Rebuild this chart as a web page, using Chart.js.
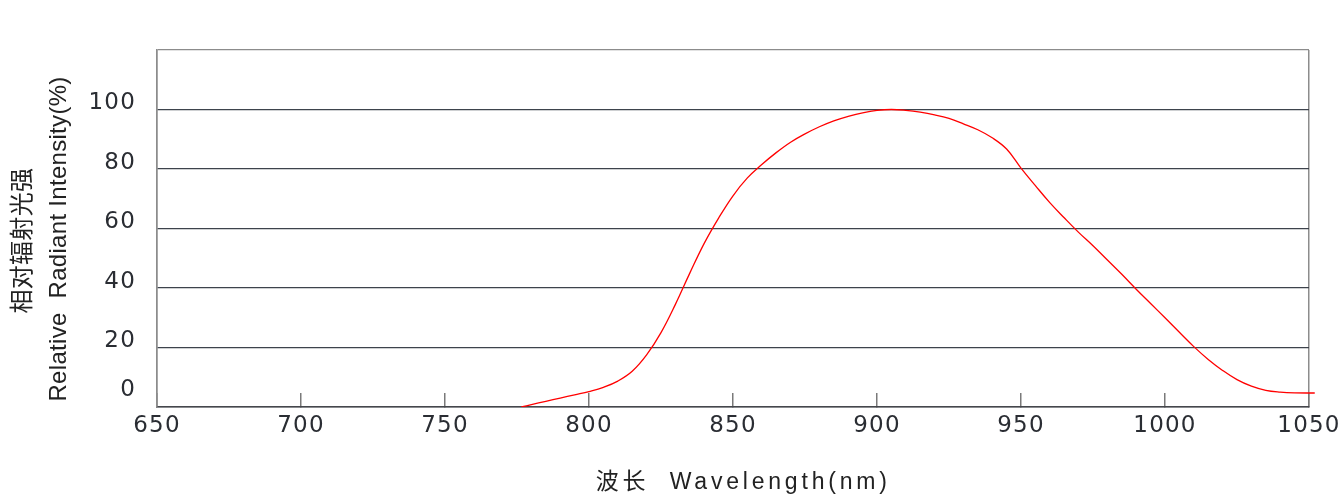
<!DOCTYPE html>
<html>
<head>
<meta charset="utf-8">
<script src="https://cdn.jsdelivr.net/npm/chart.js@4.4.1/dist/chart.umd.min.js"></script>
<style>
html,body{margin:0;padding:0;background:#fff;}
#wrap{width:1340px;height:497px;position:relative;}
</style>
</head>
<body>
<div id="wrap"><canvas id="c"></canvas></div>
<script>
// ---- data ----
const wavelengths = [776.5, 780, 785, 790, 795, 800, 805, 810, 815, 820, 825, 830, 835, 840, 845, 850, 855, 860, 865, 870, 875, 880, 885, 890, 895, 900, 905, 910, 915, 920, 925, 930, 935, 940, 945, 950, 955, 960, 965, 970, 975, 980, 985, 990, 995, 1000, 1005, 1010, 1015, 1020, 1025, 1030, 1035, 1040, 1045, 1052];
const intensity   = [0, 0.8, 1.9, 3.0, 4.1, 5.2, 6.6, 8.7, 12, 17.5, 25, 34.5, 45, 55, 63.5, 71, 77, 81.5, 85.5, 89, 91.8, 94.2, 96.2, 97.7, 98.9, 99.7, 100, 99.7, 99.1, 98.2, 97, 95.2, 93.2, 90.5, 86.7, 80.3, 74.4, 68.7, 63.6, 58.7, 54.2, 49.4, 44.6, 39.6, 34.8, 30, 25.1, 20.3, 16, 12.3, 9.2, 7, 5.6, 5, 4.75, 4.7];
const xTickValues = [650, 700, 750, 800, 850, 900, 950, 1000, 1050];
const yTickValues = [0, 20, 40, 60, 80, 100, 120];
const yTitleLines = ['相对辐射光强\u3000', 'Relative  Radiant Intensity(%)   '];
const xTitleText  = '  波长  Wavelength(nm)';

const spacingPlugin = {
  id: 'spacing',
  beforeUpdate(chart) { chart.ctx.letterSpacing = '1.2px'; },
  beforeDraw(chart) { chart.ctx.letterSpacing = '1.2px'; },
  afterLayout(chart) {
    const conf = [['x', '3.8px'], ['y', '0.3px']];
    for (const [id, sp] of conf) {
      const s = chart.scales[id];
      if (s && !s.__wrapped) {
        const orig = s.drawTitle;
        s.drawTitle = function () {
          const c = this.ctx;
          const prev = c.letterSpacing;
          c.letterSpacing = sp;
          orig.call(this);
          c.letterSpacing = prev;
        };
        s.__wrapped = true;
      }
    }
  }
};

const points = wavelengths.map((w, i) => ({x: w, y: intensity[i]}));

new Chart(document.getElementById('c'), {
  type: 'line',
  data: {
    datasets: [{
      data: points,
      borderColor: '#ff0000',
      borderWidth: 1.3,
      pointRadius: 0,
      fill: false,
      tension: 0.4,
      clip: {left: 0, top: false, right: 8, bottom: 0}
    }]
  },
  options: {
    responsive: true,
    maintainAspectRatio: false,
    animation: false,
    events: [],
    layout: {padding: {left: 5, top: 50, right: 31, bottom: 0}},
    plugins: {legend: {display: false}, tooltip: {enabled: false}},
    scales: {
      x: {
        type: 'linear',
        min: 650, max: 1050,
        afterBuildTicks: (s) => { s.ticks = xTickValues.map(v => ({value: v})); },
        afterFit: (s) => { s.height = 90; s.paddingLeft = 0; s.paddingRight = 0; },
        border: {display: true, color: '#45474c', width: 1.5},
        grid: {
          display: true,
          drawOnChartArea: true,
          color: (ctx) => (ctx.tick && (ctx.tick.value === 650 || ctx.tick.value === 1050)) ? '#8c8c8c' : 'rgba(0,0,0,0)',
          lineWidth: 1.5,
          drawTicks: true,
          tickLength: -14,
          tickColor: '#7a7a7a',
          tickWidth: 1.5
        },
        ticks: {
          color: '#2a2d33',
          font: {family: 'DejaVu Sans', size: 23, lineHeight: 1.2},
          padding: 19,
          maxRotation: 0,
          autoSkip: false,
          callback: (v) => String(v)
        },
        title: {
          display: true,
          text: xTitleText,
          color: '#222222',
          font: {family: "'Liberation Sans', 'Noto Sans CJK SC', sans-serif", size: 23, lineHeight: 1.2},
          padding: {top: 4, bottom: 1}
        }
      },
      y: {
        type: 'linear',
        min: 0, max: 120,
        afterBuildTicks: (s) => { s.ticks = yTickValues.map(v => ({value: v})); },
        afterFit: (s) => { s.width = 152; },
        border: {display: true, color: '#8c8c8c', width: 1.5},
        grid: {
          display: true,
          drawTicks: false,
          color: (ctx) => {
            const v = ctx.tick ? ctx.tick.value : null;
            if (v === 120) return '#8c8c8c';
            if (v === 0) return '#45474c';
            return '#3d434c';
          },
          lineWidth: 1.3
        },
        ticks: {
          color: '#2a2d33',
          font: {family: 'DejaVu Sans', size: 23, lineHeight: 0.95},
          padding: 21,
          labelOffset: -6,
          callback: (v) => v === 120 ? '' : (v === 0 ? ['0', ''] : String(v))
        },
        title: {
          display: true,
          text: yTitleLines,
          color: '#222222',
          font: {family: "'Liberation Sans', 'Noto Sans CJK SC', sans-serif", size: 24, lineHeight: 1.5},
          padding: {top: 0, bottom: 10}
        }
      }
    }
  },
  plugins: [spacingPlugin]
});
</script>
</body>
</html>
